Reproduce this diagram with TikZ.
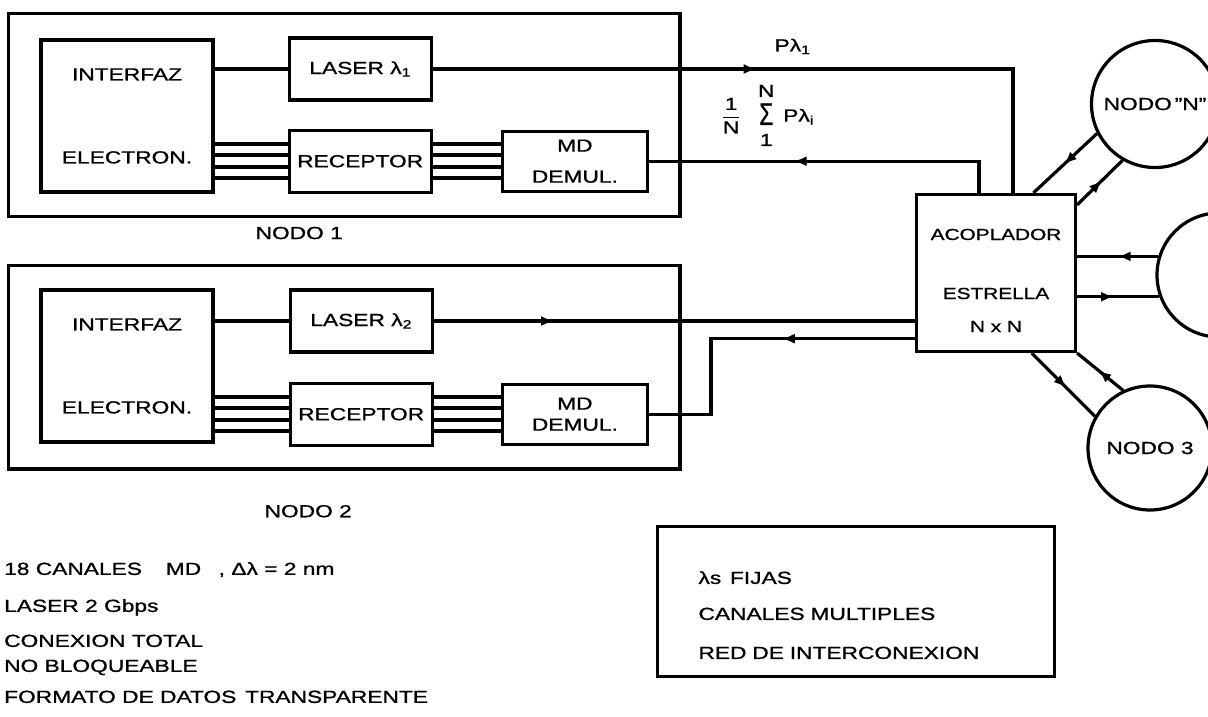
\documentclass[tikz,border=0pt]{standalone}
\usepackage{amsmath}
\usepackage{fontspec}
\setmainfont{Liberation Sans}[FakeStretch=1.3, FakeBold=1]
\usetikzlibrary{positioning, arrows.meta, fit, decorations.markings}

\begin{document}
\begin{tikzpicture}[x=1pt, y=-1pt, >=Latex,
        every node/.style={font=\fontsize{17.5}{21}\selectfont},
        unit/.style={rectangle, draw=black, line width=3.2pt, align=center, inner sep=2pt},
        laserbox/.style={unit, minimum width=142pt, minimum height=62pt},
        mdbox/.style={unit, minimum width=145pt, minimum height=60pt},
        frame/.style={rectangle, draw=black, line width=3.4pt, inner xsep=31pt, inner ysep=23pt},
        star/.style={unit, minimum width=159pt, minimum height=157pt, font=\fontsize{16}{21}\selectfont},
        station/.style={circle, draw=black, line width=3.2pt, inner sep=1pt},
        note/.style={rectangle, draw=black, line width=3pt, align=left, inner xsep=41pt, text width=315pt, minimum height=150pt},
        wire/.style={line width=3.6pt},
        fiber/.style={line width=3.2pt, postaction={decorate, decoration={markings, mark=at position #1 with {\arrow{Latex[length=13pt, width=10pt]}}}}}]

        \useasboundingbox (0,0) rectangle (1208,717);

        \node[unit, minimum width=172pt, minimum height=152pt] (int1) at (127,116) {INTERFAZ\\[62pt]ELECTRON.};
        \node[laserbox, anchor=north west] (laser1) at ([xshift=73pt, yshift=2pt]int1.north east) {LASER λ\textsubscript{1}};
        \node[laserbox, below=27pt of laser1] (rec1) {RECEPTOR};
        \node[mdbox, right=68pt of rec1] (md1) {MD\\[10pt]DEMUL.};
        \node[frame, fit=(int1)(laser1)(md1)] (nodo1) {};
        \node[below=5pt of nodo1, xshift=-45pt] (lab1) {NODO 1};

        \node[unit, minimum width=172pt, minimum height=152pt] (int2) at (127,366) {INTERFAZ\\[62pt]ELECTRON.};
        \node[laserbox, anchor=north west] (laser2) at ([xshift=74pt]int2.north east) {LASER λ\textsubscript{2}};
        \node[laserbox, below=28pt of laser2] (rec2) {RECEPTOR};
        \node[mdbox, right=67pt of rec2] (md2) {MD\\[0pt]DEMUL.};
        \node[frame, fit=(int2)(laser2)(md2)] (nodo2) {};
        \node[below=31pt of nodo2, xshift=-36pt] (lab2) {NODO 2};

        \node[star] (coupler) at (996,273) {\rule{0pt}{26pt}ACOPLADOR\\[38pt]ESTRELLA\\[12pt]N x N};
        \node[station, minimum size=127pt] (nodeN) at (1155,104) {NODO\,"N"};
        \node[station, minimum size=124pt] (hub) at (1219,275) {};
        \node[station, minimum size=124pt] (nodo3) at (1150,448) {NODO 3};

        \node[anchor=north west, align=left, inner sep=0pt] (specs) at (4,562)
            {18 CANALES\quad\ MD\quad, Δλ = 2 nm\\[16pt]LASER 2 Gbps\\[14pt]CONEXION TOTAL\\[4pt]NO BLOQUEABLE\\[10pt]FORMATO DE DATOS\enspace TRANSPARENTE};
        \node[note, anchor=north west] (legend) at (656,525)
            {\rule{0pt}{40pt}λs\enspace FIJAS\\[15pt]CANALES MULTIPLES\\[18pt]RED DE INTERCONEXION};

        \draw[wire] (laser1.west -| int1.east) -- (laser1.west);
        \draw[wire] (laser2.west -| int2.east) -- (laser2.west);
        \foreach \dy in {-17,-6,6,17} {
            \path ([yshift=\dy pt]rec1.west) coordinate (a) ([yshift=\dy pt]rec1.east) coordinate (b);
            \draw[wire] (a -| int1.east) -- (a) (b) -- (b -| md1.west);
            \path ([yshift=\dy pt]rec2.west) coordinate (a) ([yshift=\dy pt]rec2.east) coordinate (b);
            \draw[wire] (a -| int2.east) -- (a) (b) -- (b -| md2.west);
        }

        \draw[fiber=.46] (laser1.east) -| node[pos=.31, above=10pt] {Pλ\textsubscript{1}} (coupler.78);
        \draw[fiber=.6] (coupler.102) |- node[pos=.82, above=4pt]
            {$\displaystyle\frac{\text{1}}{\text{N}}$\quad\begin{tabular}{@{}c@{}}N\\[0pt]\scalebox{1}[1.8]{Σ}\\[0pt]1\end{tabular}\enspace Pλ\textsubscript{i}} (md1.east);
        \draw[fiber=.25] (laser2.east) -- (laser2.east -| coupler.west);
        \draw[fiber=.39] (coupler.219) -- ++(-204,0) |- (md2.east);

        \draw[fiber=.52] (nodeN.207) -- (coupler.65);
        \draw[fiber=.55] (coupler.40) -- (nodeN.240);
        \draw[fiber=.5] (hub.163) -- (hub.163 -| coupler.east);
        \draw[fiber=.45] (hub.200 -| coupler.east) -- (hub.200);
        \draw[fiber=.55] (coupler.-66) -- (nodo3.150);
        \draw[fiber=.54] (nodo3.115) -- (coupler.south east);
\end{tikzpicture}
\end{document}
